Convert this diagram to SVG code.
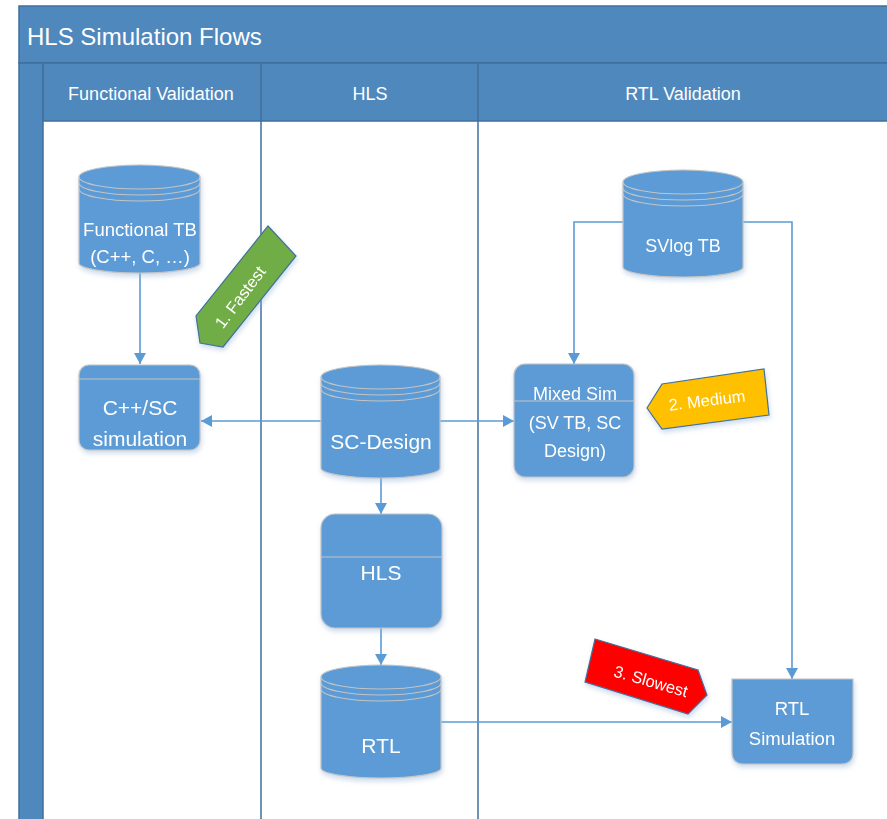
<svg xmlns="http://www.w3.org/2000/svg" width="887" height="819" viewBox="0 0 887 819">
<defs>
<filter id="sh" x="-20%" y="-20%" width="140%" height="140%">
<feDropShadow dx="1" dy="3" stdDeviation="2.5" flood-color="#8FB0D4" flood-opacity="0.45"/>
</filter>
<marker id="ah" markerWidth="12" markerHeight="12" refX="11" refY="6" orient="auto" markerUnits="userSpaceOnUse">
<path d="M0,0 L11,6 L0,12 Z" fill="#5B9BD5"/>
</marker>
<style>
.hdr{fill:#4F88BD;stroke:#3F6F9E;stroke-width:1.5}
.lane{stroke:#3F6F9E;stroke-width:1.5;fill:none}
.node{fill:#5B9BD5;stroke:#C4C4C4;stroke-width:1.2}
.ring{fill:none;stroke:#C4C4C4;stroke-width:1.2}
.conn{fill:none;stroke:#5B9BD5;stroke-width:1.6;marker-end:url(#ah)}
text{font-family:"Liberation Sans","Open Sans",sans-serif;fill:#FFFFFF;text-anchor:middle}
.tag{stroke:#41719C;stroke-width:1.2}
</style>
</defs>
<rect width="887" height="819" fill="#FFFFFF"/>
<g id="pool">
<rect class="hdr" x="19" y="6" width="880" height="57"/>
<rect class="hdr" x="19" y="63" width="24" height="770"/>
<rect class="hdr" x="43" y="63" width="856" height="58"/>
<line class="lane" x1="261" y1="63" x2="261" y2="819"/>
<line class="lane" x1="478" y1="63" x2="478" y2="819"/>
<text x="27" y="45" style="text-anchor:start;font-size:24px">HLS Simulation Flows</text>
<text x="151" y="100" style="font-size:18px">Functional Validation</text>
<text x="370" y="100" style="font-size:18px">HLS</text>
<text x="683" y="100" style="font-size:18px">RTL Validation</text>
</g>
<g id="connectors">
<path class="conn" d="M140,273 V364"/>
<path class="conn" d="M321,421 H201"/>
<path class="conn" d="M440,421 H514"/>
<path class="conn" d="M381,478 V514"/>
<path class="conn" d="M381,628 V665"/>
<path class="conn" d="M441,722 H732"/>
<path class="conn" d="M623,222 H574 V364"/>
<path class="conn" d="M743,222 H792 V679"/>
</g>
<g id="functional-tb" filter="url(#sh)">
<path class="node" d="M79,177 A60.5,12 0 0 1 200,177 V263 A60.5,10 0 0 1 79,263 Z"/>
<path class="ring" d="M79,177 A60.5,12 0 0 0 200,177 M79,183 A60.5,12 0 0 0 200,183 M79,189 A60.5,12 0 0 0 200,189"/>
<text x="140" y="236" style="font-size:18.5px">Functional TB</text>
<text x="140" y="263" style="font-size:18.5px">(C++, C, …)</text>
</g>
<g id="svlog-tb" filter="url(#sh)">
<path class="node" d="M623,182 A60,12 0 0 1 743,182 V267 A60,10 0 0 1 623,267 Z"/>
<path class="ring" d="M623,182 A60,12 0 0 0 743,182 M623,188 A60,12 0 0 0 743,188 M623,194 A60,12 0 0 0 743,194"/>
<text x="683" y="252" style="font-size:18px">SVlog TB</text>
</g>
<g id="sc-design" filter="url(#sh)">
<path class="node" d="M321,377 A59.5,12 0 0 1 440,377 V468 A59.5,10 0 0 1 321,468 Z"/>
<path class="ring" d="M321,377 A59.5,12 0 0 0 440,377 M321,383 A59.5,12 0 0 0 440,383 M321,389 A59.5,12 0 0 0 440,389"/>
<text x="381" y="449" style="font-size:21px">SC-Design</text>
</g>
<g id="rtl" filter="url(#sh)">
<path class="node" d="M321,677 A60,12 0 0 1 441,677 V768 A60,10 0 0 1 321,768 Z"/>
<path class="ring" d="M321,677 A60,12 0 0 0 441,677 M321,683 A60,12 0 0 0 441,683 M321,689 A60,12 0 0 0 441,689"/>
<text x="381" y="753" style="font-size:21px">RTL</text>
</g>
<g id="cpp-sc-simulation" filter="url(#sh)">
<rect class="node" x="79" y="365" width="121" height="85" rx="10"/>
<line class="ring" x1="79" y1="379" x2="200" y2="379"/>
<text x="140" y="415" style="font-size:21px">C++/SC</text>
<text x="140" y="446" style="font-size:21px">simulation</text>
</g>
<g id="mixed-sim" filter="url(#sh)">
<rect class="node" x="514" y="364" width="120" height="113" rx="11"/>
<text x="575" y="400" style="font-size:18px">Mixed Sim</text>
<line class="ring" x1="514" y1="401" x2="634" y2="401"/>
<text x="575" y="429" style="font-size:18px">(SV TB, SC</text>
<text x="575" y="457" style="font-size:18px">Design)</text>
</g>
<g id="hls" filter="url(#sh)">
<rect class="node" x="321" y="514" width="121" height="114" rx="14"/>
<line class="ring" x1="321" y1="557" x2="442" y2="557"/>
<text x="381" y="580" style="font-size:21px">HLS</text>
</g>
<g id="rtl-simulation" filter="url(#sh)">
<path class="node" d="M732,679 H853 V752 Q853,764 841,764 H744 Q732,764 732,752 Z"/>
<text x="792" y="715" style="font-size:18.5px">RTL</text>
<text x="792" y="745" style="font-size:18.5px">Simulation</text>
</g>
<g id="tag-fastest" filter="url(#sh)">
<polygon class="tag" fill="#70AD47" points="268,226 296,256 223,347 200,343 196,316"/>
<text transform="translate(240,297) rotate(-53)" y="6" style="font-size:16.5px">1. Fastest</text>
</g>
<g id="tag-medium" filter="url(#sh)">
<polygon class="tag" fill="#FFC000" points="647,408 662,384 764,369 769,415 662,429"/>
<text transform="translate(707,400) rotate(-7)" y="6" style="font-size:16.5px">2. Medium</text>
</g>
<g id="tag-slowest" filter="url(#sh)">
<polygon class="tag" fill="#FF0000" points="595,639 698,670 707,695 688,714 585,682"/>
<text transform="translate(651,681) rotate(16)" y="6" style="font-size:16.5px">3. Slowest</text>
</g>
</svg>
